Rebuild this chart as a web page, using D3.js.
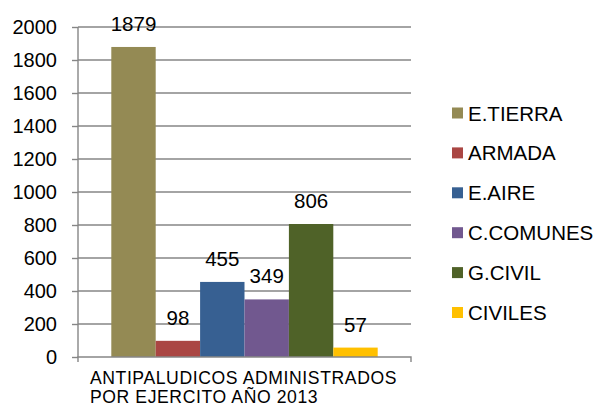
<!DOCTYPE html>
<html>
<head>
<meta charset="utf-8">
<script src="https://cdn.jsdelivr.net/npm/d3@7"></script>
<style>
  body { margin: 0; background: #fff; }
  svg { display: block; font-family: "Liberation Sans", Arial, sans-serif; }
</style>
</head>
<body>
<svg id="chart"></svg>
<script>
// data
var categories = ["ANTIPALUDICOS ADMINISTRADOS POR EJERCITO AÑO 2013"];
var categoryLines = ["ANTIPALUDICOS ADMINISTRADOS", "POR EJERCITO AÑO 2013"];
var seriesNames = ["E.TIERRA", "ARMADA", "E.AIRE", "C.COMUNES", "G.CIVIL", "CIVILES"];
var seriesValues = [1879, 98, 455, 349, 806, 57];
var seriesColors = ["#948A54", "#AA4643", "#376092", "#71588F", "#4F6228", "#FFC000"];
var yTicks = [0, 200, 400, 600, 800, 1000, 1200, 1400, 1600, 1800, 2000];

function drawChart() {
  var margins = { left: 78, right: 188, top: 27, bottom: 50 };
  var totalW = 599, totalH = 407;
  var width = totalW - margins.left - margins.right;
  var height = totalH - margins.top - margins.bottom;

  var svg = d3.select("#chart")
    .attr("width", totalW)
    .attr("height", totalH);

  svg.append("rect")
    .attr("width", totalW)
    .attr("height", totalH)
    .attr("fill", "#fff");

  var plot = svg.append("g")
    .attr("transform", "translate(" + margins.left + "," + margins.top + ")");

  var yScale = d3.scaleLinear()
    .domain([0, 2000])
    .range([height, 0]);

  var x0 = d3.scaleBand()
    .domain(categories)
    .range([0, width])
    .paddingInner(0.2)
    .paddingOuter(0.1);

  var x1 = d3.scaleBand()
    .domain(seriesNames)
    .range([0, x0.bandwidth()]);

  // gridlines
  plot.append("g")
    .selectAll("line")
    .data(yTicks.slice(1))
    .enter()
    .append("line")
    .attr("x1", 0)
    .attr("x2", width)
    .attr("y1", d => yScale(d))
    .attr("y2", d => yScale(d))
    .attr("stroke", "#868686")
    .attr("stroke-width", 1.4);

  // y axis
  var yAxis = d3.axisLeft(yScale)
    .tickValues(yTicks)
    .tickSize(6)
    .tickPadding(15)
    .tickFormat(d3.format("d"));

  var yg = plot.append("g").call(yAxis);
  yg.select(".domain").attr("stroke", "#868686").attr("stroke-width", 1.4)
    .attr("d", "M0," + yScale(2000) + "V" + height);
  yg.selectAll(".tick line").attr("stroke", "#868686").attr("stroke-width", 1.4);
  yg.selectAll(".tick text")
    .attr("fill", "#000")
    .style("font-size", "20px")
    .style("font-family", "'Liberation Sans', Arial, sans-serif");

  // bars
  var group = plot.append("g")
    .attr("transform", "translate(" + x0(categories[0]) + ",0)");

  group.selectAll("rect")
    .data(seriesValues)
    .enter()
    .append("rect")
    .attr("x", (d, i) => x1(seriesNames[i]))
    .attr("y", d => yScale(d))
    .attr("width", x1.bandwidth())
    .attr("height", d => height - yScale(d))
    .attr("fill", (d, i) => seriesColors[i]);

  group.selectAll("text.val")
    .data(seriesValues)
    .enter()
    .append("text")
    .attr("class", "val")
    .attr("x", (d, i) => x1(seriesNames[i]) + x1.bandwidth() / 2)
    .attr("y", d => yScale(d) - 16)
    .attr("text-anchor", "middle")
    .style("font-size", "20.5px")
    .attr("fill", "#000")
    .text(d => d);

  // x axis
  var xAxis = d3.axisBottom(x0).tickSize(0).tickFormat("");
  var xg = plot.append("g")
    .attr("transform", "translate(0," + height + ")")
    .call(xAxis);
  xg.select(".domain").attr("stroke", "#868686").attr("stroke-width", 1.4)
    .attr("d", "M0,5V0H" + width + "V5");

  // category label, two lines, left-aligned under the group
  var cx = x0(categories[0]) + x0.bandwidth() / 2;
  var label = plot.append("text")
    .attr("y", height + 26.5)
    .style("font-size", "17.6px")
    .style("letter-spacing", "0.6px")
    .attr("fill", "#000");
  label.selectAll("tspan")
    .data(categoryLines)
    .enter()
    .append("tspan")
    .attr("dy", (d, i) => i === 0 ? 0 : 19.8)
    .text(d => d);
  var w = label.select("tspan").node().getComputedTextLength();
  label.selectAll("tspan").attr("x", cx - w / 2 - 1);

  // legend
  var legend = svg.append("g")
    .attr("transform", "translate(452,113)");

  var items = legend.selectAll("g")
    .data(seriesNames)
    .enter()
    .append("g")
    .attr("transform", (d, i) => "translate(0," + i * 39.9 + ")");

  items.append("rect")
    .attr("x", 0)
    .attr("y", -5.5)
    .attr("width", 11)
    .attr("height", 11)
    .attr("fill", (d, i) => seriesColors[i]);

  items.append("text")
    .attr("x", 16)
    .attr("y", 7.5)
    .style("font-size", "20.5px")
    .attr("fill", "#000")
    .text(d => d);
}

drawChart();
</script>
</body>
</html>
